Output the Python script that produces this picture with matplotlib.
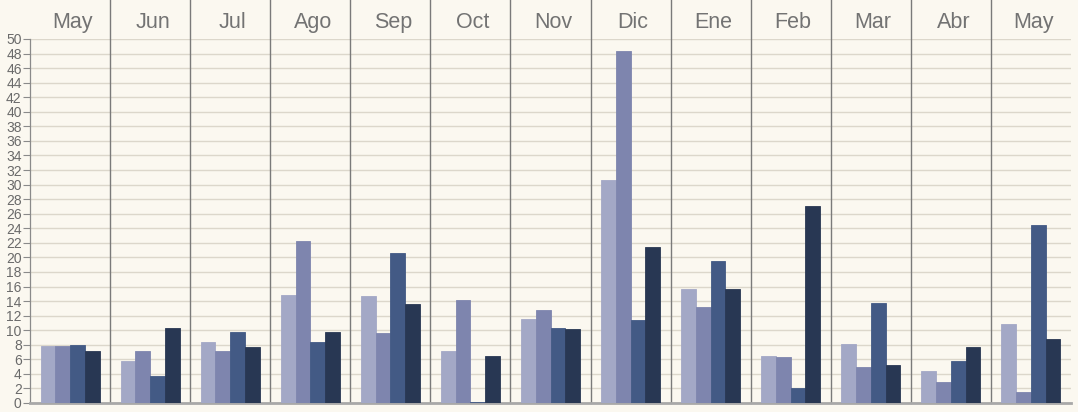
import numpy as np
import matplotlib.pyplot as plt

months = ['May', 'Jun', 'Jul', 'Ago', 'Sep', 'Oct', 'Nov', 'Dic', 'Ene', 'Feb', 'Mar', 'Abr', 'May']
serie_a = [7.8, 5.8, 8.4, 14.8, 14.7, 7.1, 11.5, 30.6, 15.6, 6.5, 8.1, 4.4, 10.8]
serie_b = [7.8, 7.1, 7.2, 22.2, 9.6, 14.1, 12.8, 48.3, 13.2, 6.3, 5.0, 2.9, 1.5]
serie_c = [7.9, 3.7, 9.8, 8.4, 20.6, 0.1, 10.3, 11.4, 19.5, 2.1, 13.7, 5.8, 24.5]
serie_d = [7.1, 10.3, 7.7, 9.8, 13.6, 6.5, 10.2, 21.4, 15.6, 27.0, 5.2, 7.7, 8.8]
yticks = list(range(0, 51, 2))

colors = ['#a3a8c6', '#7e85ae', '#435a85', '#283753']
bg = '#fbf8f0'

fig = plt.figure(figsize=(10.78, 4.12), dpi=100, facecolor=bg)
ax = fig.add_axes([30 / 1078, 9 / 412, 1041 / 1078, 364 / 412])
ax.set_facecolor(bg)

x = np.arange(len(months))
w = 0.184
for i, (vals, c) in enumerate(zip([serie_a, serie_b, serie_c, serie_d], colors)):
    ax.bar(x + (i - 1.5) * w, vals, width=w, color=c, edgecolor=c, linewidth=0.6, zorder=3)

ax.set_xlim(-0.5, len(months) - 0.5)
ax.set_ylim(0, 50)
ax.set_yticks(yticks)
ax.set_xticks([])
ax.yaxis.grid(True, color='#dcd7cb', linewidth=1, zorder=0)
ax.set_axisbelow(True)

for s in ['top', 'right']:
    ax.spines[s].set_visible(False)
ax.spines['left'].set_color('#8a8a8a')
ax.spines['left'].set_linewidth(0.9)
ax.spines['bottom'].set_color('#a8a8a8')
ax.spines['bottom'].set_linewidth(2)

ax.tick_params(axis='y', length=5, width=0.8, color='#8a8a8a', labelcolor='#6a6a6a',
               labelsize=10, pad=1)
for lab in ax.get_yticklabels():
    lab.set_family('Liberation Sans')

for k in range(len(months) - 1):
    ax.axvline(k + 0.5, ymin=0, ymax=403 / 364, color='#7a7a7a', linewidth=1,
               clip_on=False, zorder=2)

# month names sit above the plot area, one per column
for k, m in enumerate(months):
    ax.text(k + 0.03, 1 + 11 / 364, m, transform=ax.get_xaxis_transform(), ha='center',
            va='baseline', fontsize=15.5, color='#737373', family='Liberation Sans')

fig.savefig('out.png', dpi=100, facecolor=bg)
